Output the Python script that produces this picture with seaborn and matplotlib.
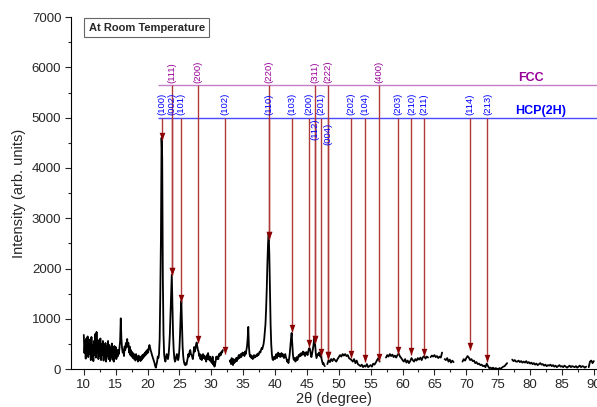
import numpy as np
import pandas as pd
import seaborn as sns
import matplotlib.pyplot as plt

# XRD pattern: 2theta step 0.1 from 10 to 47.9, then step 0.2 up to 90
tt_fine = np.round(np.arange(10.0, 47.95, 0.1), 1)
int_fine = [
    680, 320, 560, 210, 610, 380, 650, 240, 520, 300,
    590, 180, 640, 350, 470, 160, 560, 280, 700, 230,
    740, 320, 580, 200, 530, 260, 610, 180, 500, 290,
    560, 170, 480, 240, 520, 150, 450, 270, 560, 200,
    480, 160, 430, 250, 510, 190, 400, 150, 460, 230,
    440, 200, 380, 250, 380, 300, 420, 560, 1010, 600,
    420, 330, 390, 260, 450, 380, 520, 430, 600, 470,
    520, 330, 450, 280, 380, 250, 340, 220, 310, 200,
    280, 170, 300, 210, 250, 150, 270, 180, 230, 160,
    250, 190, 280, 220, 300, 250, 330, 280, 360, 310,
    390, 330, 430, 480, 420, 370, 330, 280, 240, 200,
    160, 120, 60, 30, 90, 150, 250, 220, 300, 600,
    1500, 2600, 4600, 4200, 1800, 700, 300, 200, 150, 220,
    300, 250, 200, 280, 450, 700, 1100, 1500, 1880, 1300,
    700, 380, 220, 150, 180, 250, 300, 220, 180, 250,
    400, 700, 1100, 1360, 900, 450, 250, 150, 100, 80,
    120, 90, 150, 220, 300, 250, 350, 380, 300, 280,
    250, 200, 300, 440, 350, 400, 480, 530, 450, 380,
    350, 260, 300, 200, 280, 180, 250, 300, 220, 270,
    200, 240, 150, 280, 200, 320, 230, 180, 250, 150,
    200, 120, 250, 90, 150, 50, 100, 180, 250, 200,
    250, 200, 300, 260, 320, 280, 350, 330, 380, np.nan,
    np.nan, np.nan, np.nan, np.nan, np.nan, np.nan, np.nan, np.nan, np.nan, 150,
    180, 100, 220, 150, 80, 200, 120, 180, 150, 220,
    160, 230, 200, 280, 220, 250, 300, 240, 280, 330,
    280, 320, 260, 350, 300, 380, 450, 600, 840, 450,
    300, 250, 280, 220, 260, 200, 240, 280, 230, 260,
    250, 290, 260, 310, 280, 320, 350, 330, 380, 420,
    400, 450, 500, 600, 750, 900, 1200, 1600, 2100, 2500,
    2700, 2300, 1600, 900, 500, 300, 200, 180, 220, 250,
    200, 250, 300, 220, 280, 330, 260, 300, 240, 280,
    320, 250, 300, 280, 220, 260, 300, 240, 200, 150,
    180, 120, 200, 300, 450, 600, 720, 500, 300, 200,
    180, 220, 150, 200, 240, 180, 220, 280, 250, 300,
    260, 320, 280, 300, 350, 290, 330, 260, 300, 340,
    320, 280, 350, 400, 420, 380, 300, 240, 300, 380,
    450, 560, 640, 480, 300, 220, 260, 300, 280, 330,
    300, 250, 310, 200, 150, 100, 120, 80, 60, np.nan,
]
tt_coarse = np.round(np.arange(48.0, 90.05, 0.2), 1)
int_coarse = [
    np.nan, 100, 180, 140, 200,
    160, 210, 180, 150, 200,
    240, 280, 250, 300, 270,
    300, 260, 280, 220, 200,
    180, 150, 200, 120, 170,
    100, 80, 60, 90, 40,
    70, 50, 100, 40, 60,
    80, 50, 110, 90, 130,
    180, 220, 150, np.nan, np.nan,
    np.nan, np.nan, 230, 280, 250,
    300, 260, 290, 240, 270,
    230, 280, 310, 250, 220,
    180, 150, 200, 130, 170,
    120, 160, 220, 180, 150,
    200, 170, 220, 190, 230,
    180, 240, 260, 210, 250,
    230, np.nan, 240, 270, 250,
    280, 240, 260, 220, 250,
    230, 330, np.nan, 200, 180,
    220, 150, 190, 130, 170,
    140, np.nan, np.nan, np.nan, np.nan,
    180, np.nan, 150, 200, 170,
    220, 260, 230, 180, 200,
    160, 170, 120, 140, 100,
    110, 80, 90, 60, 70,
    40, 110, 60, 20, 30,
    10, 30, 0, 20, 10,
    0, 20, 10, 30, 50,
    60, 90, 120, np.nan, np.nan,
    np.nan, 190, 160, 180, 150,
    150, 170, 140, 160, 130,
    150, 130, 160, 120, 140,
    110, 130, 100, 120, 90,
    110, 80, 100, 120, 90,
    100, 70, 90, 60, 80,
    70, 90, 60, 80, 50,
    70, 40, 60, 80, 50,
    60, 40, 70, 50, 30,
    50, 70, 40, 60, 50,
    40, 60, 30, 50, 70,
    40, 60, 50, 30, 50,
    np.nan, 40, 150, 170, 120,
    160,
]

# reflection markers
fcc_labels = ['(111)', '(200)', '(220)', '(311)', '(222)', '(400)']
fcc_pos = [23.86, 27.85, 39.05, 46.25, 48.27, 56.27]
fcc_tip = [1870, 520, 2580, 520, 210, 160]

hcp_labels = ['(100)', '(002)', '(101)', '(102)', '(110)', '(103)', '(200)', '(112)', '(201)',
              '(004)', '(202)', '(104)', '(203)', '(210)', '(211)', '(114)', '(213)']
hcp_pos = [22.25, 23.86, 25.3, 32.15, 39.05, 42.7, 45.3, 46.25, 47.25,
           48.27, 51.93, 54.13, 59.25, 61.4, 63.33, 70.55, 73.32]
hcp_tip = [4550, 1870, 1330, 300, 2580, 740, 440, 520, 260,
           210, 220, 150, 310, 280, 260, 380, 150]
hcp_below = {'(112)': 4985, '(004)': 4905}   # these two sit under the HCP line

fcc_level = 5650
hcp_level = 5000

sns.set_style('ticks')
plt.rcParams['font.family'] = ['Liberation Sans', 'DejaVu Sans']

fig = plt.figure(figsize=(5.97, 4.07), dpi=100)
ax = fig.add_axes([0.119, 0.093, 0.881, 0.865])

df = pd.DataFrame({'tt': np.concatenate([tt_fine, tt_coarse]),
                   'I': np.concatenate([int_fine, int_coarse])})
df['seg'] = df['I'].isna().cumsum()
df = df.dropna()
sns.lineplot(data=df, x='tt', y='I', units='seg', estimator=None, color='black',
             lw=1.3, ax=ax)

drop_col = '#b03a3a'
head_col = '#8b0000'
head = [(-0.75, 2), (0.75, 2), (0, 0)]

ax.hlines(fcc_level, 21.7, 90.5, color='#c47ec4', lw=1)
ax.hlines(hcp_level, 21.7, 90.5, color='#4a4aff', lw=1)

for lab, x, tip in zip(fcc_labels, fcc_pos, fcc_tip):
    ax.vlines(x, tip, fcc_level, color=drop_col, lw=1)
    ax.plot(x, tip, marker=head, ms=11, color=head_col, mew=0)
    ax.text(x, fcc_level + 40, lab, rotation=90, ha='center', va='bottom',
            fontsize=6.8, color='#990099', zorder=5)

for lab, x, tip in zip(hcp_labels, hcp_pos, hcp_tip):
    ax.vlines(x, tip, hcp_level, color=drop_col, lw=1)
    ax.plot(x, tip, marker=head, ms=11, color=head_col, mew=0)
    if lab in hcp_below:
        ax.text(x, hcp_below[lab], lab, rotation=90, ha='center', va='top',
                fontsize=6.8, color='#0000ff', zorder=5)
    else:
        ax.text(x, hcp_level + 50, lab, rotation=90, ha='center', va='bottom',
                fontsize=6.8, color='#0000ff', zorder=5)

ax.text(78.1, 5730, 'FCC', fontsize=9, fontweight='bold', color='#990099',
        ha='left', va='baseline')
ax.text(77.6, 5075, 'HCP(2H)', fontsize=9, fontweight='bold', color='#0000ff',
        ha='left', va='baseline')
ax.text(19.9, 6790, 'At Room Temperature', fontsize=8, fontweight='bold',
        ha='center', va='center',
        bbox=dict(boxstyle='square,pad=0.4', fc='white', ec='#666666', lw=0.8))

ax.set_xlim(8, 90.5)
ax.set_ylim(0, 7000)
ax.set_xticks(np.arange(10, 91, 5))
ax.set_xticks(np.arange(12.5, 90, 5), minor=True)
ax.set_yticks(np.arange(0, 7001, 1000))
ax.set_yticks(np.arange(500, 7000, 1000), minor=True)
ax.tick_params(which='major', direction='out', length=4, width=0.8, labelsize=9.5, pad=3)
ax.tick_params(which='minor', direction='out', length=2.5, width=0.8)
ax.set_xlabel('2θ (degree)', fontsize=10.5, labelpad=1)
ax.set_ylabel('Intensity (arb. units)', fontsize=10.5, labelpad=4)
for side in ['top', 'right']:
    ax.spines[side].set_visible(False)
for side in ['left', 'bottom']:
    ax.spines[side].set_linewidth(0.8)
    ax.spines[side].set_color('black')

fig.savefig('out.png', dpi=100)
